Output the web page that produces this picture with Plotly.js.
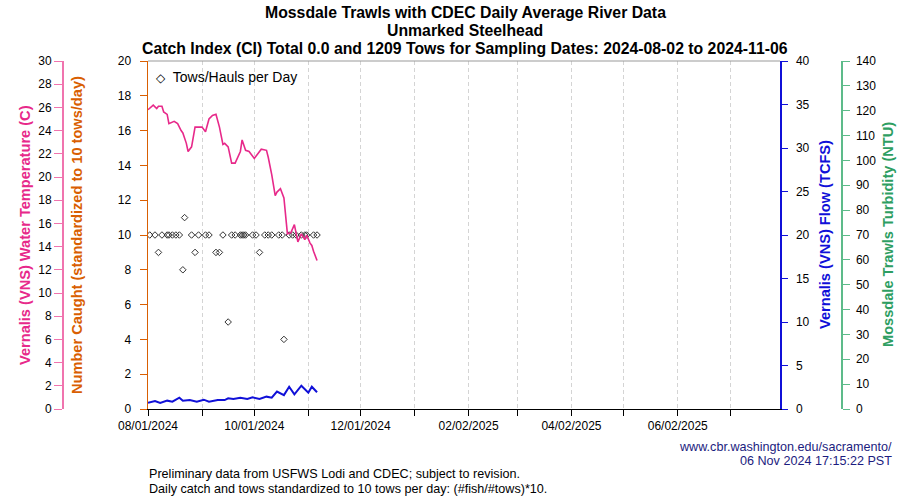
<!DOCTYPE html>
<html>
<head>
<meta charset="utf-8">
<script src="https://cdn.plot.ly/plotly-3.0.1.min.js"></script>
<style>html,body{margin:0;padding:0;background:#fff;}#chart{width:900px;height:500px;}</style>
</head>
<body>
<div id="chart"></div>
<script>
// ---- Data ----
var towDates = ['2024-08-02','2024-08-05','2024-08-07','2024-08-09','2024-08-12','2024-08-13','2024-08-15','2024-08-17','2024-08-19','2024-08-21','2024-08-22','2024-08-26','2024-08-28','2024-08-30','2024-09-03','2024-09-05','2024-09-09','2024-09-11','2024-09-13','2024-09-16','2024-09-18','2024-09-20','2024-09-23','2024-09-24','2024-09-25','2024-09-26','2024-09-30','2024-10-02','2024-10-04','2024-10-07','2024-10-09','2024-10-11','2024-10-15','2024-10-17','2024-10-18','2024-10-21','2024-10-23','2024-10-25','2024-10-28','2024-10-30','2024-10-31','2024-11-04','2024-11-06'];
var towsPerDay = [10,10,9,10,10,10,10,10,10,8,11,10,9,10,10,10,9,9,10,5,10,10,10,10,10,10,10,10,9,10,10,10,10,10,4,10,10,10,10,10,10,10,10];

var tempDates = ['2024-08-01','2024-08-04','2024-08-06','2024-08-07','2024-08-09','2024-08-10','2024-08-12','2024-08-13','2024-08-16','2024-08-18','2024-08-20','2024-08-21','2024-08-23','2024-08-24','2024-08-26','2024-08-28','2024-08-30','2024-09-01','2024-09-03','2024-09-05','2024-09-07','2024-09-09','2024-09-11','2024-09-13','2024-09-14','2024-09-16','2024-09-18','2024-09-20','2024-09-23','2024-09-24','2024-09-26','2024-09-28','2024-10-01','2024-10-03','2024-10-05','2024-10-08','2024-10-09','2024-10-11','2024-10-13','2024-10-14','2024-10-16','2024-10-18','2024-10-20','2024-10-22','2024-10-24','2024-10-26','2024-10-28','2024-10-30','2024-10-31','2024-11-02','2024-11-03','2024-11-04','2024-11-06'];
var tempC = [25.8,26.2,25.9,26.1,26.1,25.6,25.4,24.6,24.8,24.6,24.0,23.8,22.9,22.2,22.6,24.3,24.3,24.3,23.9,25.0,25.3,25.4,24.3,22.8,22.9,22.6,21.2,21.2,22.2,23.2,22.3,22.2,21.6,22.0,22.4,22.3,21.7,20.2,18.4,18.7,19.0,18.2,15.1,15.2,15.9,14.4,15.1,14.6,15.0,14.3,14.1,13.6,12.8];

var flowDates = ['2024-08-01','2024-08-05','2024-08-08','2024-08-12','2024-08-15','2024-08-19','2024-08-21','2024-08-25','2024-08-29','2024-09-02','2024-09-05','2024-09-10','2024-09-14','2024-09-16','2024-09-19','2024-09-23','2024-09-27','2024-09-30','2024-10-04','2024-10-08','2024-10-11','2024-10-14','2024-10-18','2024-10-21','2024-10-24','2024-10-28','2024-11-01','2024-11-03','2024-11-06'];
var flowTCFS = [0.72,0.92,0.69,0.96,0.84,1.3,0.96,1.03,0.84,1.07,0.84,1.03,1.03,1.23,1.15,1.3,1.15,1.34,1.15,1.42,1.3,2.0,1.6,2.56,1.69,2.68,1.88,2.56,1.92];

var turbDates = [];
var turbNTU = [];

var monthTicks = ['2024-08-01','2024-09-01','2024-10-01','2024-11-01','2024-12-01','2025-01-01','2025-02-01','2025-03-01','2025-04-01','2025-05-01','2025-06-01','2025-07-01'];
var monthLabels = ['08/01/2024','','10/01/2024','','12/01/2024','','02/02/2025','','04/02/2025','','06/02/2025',''];

var titleLines = ['Mossdale Trawls with CDEC Daily Average River Data','Unmarked Steelhead','Catch Index (CI) Total 0.0 and 1209 Tows for Sampling Dates: 2024-08-02 to 2024-11-06'];
var legendLabel = 'Tows/Hauls per Day';

// ---- Geometry helpers (pixel -> paper) ----
var W = 900, TOP = 61, BOT = 409;
function px(p){ return p / W; }
function py(p){ return (BOT - p) / (BOT - TOP); }

var FONT = 'Liberation Sans, Arial, sans-serif';
var PINK = '#E7298A', PINK_AX = '#F074AE';
var ORANGE = '#D95F02';
var BLUE = '#1010D8';
var GREEN = '#2E9E62', GREEN_AX = '#5DBB8A';

var traces = [
  {x: tempDates, y: tempC, yaxis: 'y2', mode: 'lines', line: {color: PINK, width: 1.6}, showlegend: false, name: 'Temperature'},
  {x: flowDates, y: flowTCFS, yaxis: 'y3', mode: 'lines', line: {color: BLUE, width: 2}, showlegend: false, name: 'Flow'},
  {x: turbDates, y: turbNTU, yaxis: 'y4', mode: 'lines', line: {color: GREEN, width: 1.5}, showlegend: false, name: 'Turbidity'},
  {x: towDates, y: towsPerDay, yaxis: 'y', mode: 'markers', name: legendLabel, showlegend: false,
   marker: {symbol: 'diamond-open', size: 5, color: '#333333', line: {width: 1, color: '#333333'}}}
];

var tickFont = {family: FONT, size: 12, color: '#000'};
function ytitle(text, x, color){
  return {text: '<b>' + text + '</b>', xref: 'paper', yref: 'paper', x: px(x), y: py(235), textangle: -90,
          showarrow: false, xanchor: 'center', yanchor: 'middle', font: {family: FONT, size: 14.6, color: color}};
}

var annotations = [
  ytitle('Vernalis (VNS) Water Temperature (C)', 25, PINK),
  ytitle('Number Caught (standardized to 10 tows/day)', 77, ORANGE),
  ytitle('Vernalis (VNS) Flow (TCFS)', 825, BLUE),
  ytitle('Mossdale Trawls Turbidity (NTU)', 888, GREEN),
  {text: 'www.cbr.washington.edu/sacramento/', xref: 'paper', yref: 'paper', x: px(894), y: py(447), xanchor: 'right', yanchor: 'middle', showarrow: false, font: {family: FONT, size: 12.6, color: '#1C1C80'}},
  {text: '06 Nov 2024 17:15:22 PST', xref: 'paper', yref: 'paper', x: px(894), y: py(461), xanchor: 'right', yanchor: 'middle', showarrow: false, font: {family: FONT, size: 12.6, color: '#1C1C80'}},
  {text: 'Preliminary data from USFWS Lodi and CDEC; subject to revision.', xref: 'paper', yref: 'paper', x: px(147), y: py(474), xanchor: 'left', yanchor: 'middle', showarrow: false, font: {family: FONT, size: 12.6, color: '#000'}},
  {text: 'Daily catch and tows standardized to 10 tows per day: (#fish/#tows)*10.', xref: 'paper', yref: 'paper', x: px(147), y: py(489), xanchor: 'left', yanchor: 'middle', showarrow: false, font: {family: FONT, size: 12.6, color: '#000'}},
  {text: '<span style="font-family:DejaVu Sans;font-size:12px">\u25C7</span>  ' + legendLabel, xref: 'paper', yref: 'paper', x: px(154), y: py(77), xanchor: 'left', yanchor: 'middle', showarrow: false, font: {family: FONT, size: 14, color: '#000'}}
];
var titleY = [13, 31, 49];
titleLines.forEach(function(t, i){
  annotations.push({text: '<b>' + t + '</b>', xref: 'paper', yref: 'paper', x: px(465), y: py(titleY[i]), xanchor: 'center', yanchor: 'middle', showarrow: false, font: {family: FONT, size: 15.8, color: '#000'}});
});

var layout = {
  width: 900, height: 500,
  margin: {l: 0, r: 0, t: TOP, b: 500 - BOT, pad: 0},
  paper_bgcolor: '#fff', plot_bgcolor: '#fff',
  font: {family: FONT, size: 12, color: '#000'},
  showlegend: false,
  xaxis: {type: 'date', domain: [px(148), px(780)], range: ['2024-08-01', '2025-07-29 16:00'],
          tickvals: monthTicks, ticktext: monthLabels, tickangle: 0,
          showgrid: true, gridcolor: '#d4d4d4', griddash: '4px,3px', gridwidth: 1,
          showline: true, linecolor: '#000', linewidth: 1, ticks: 'outside', ticklen: 6, tickcolor: '#000',
          zeroline: false, tickfont: tickFont, anchor: 'y', fixedrange: true},
  yaxis: {range: [0, 20], tick0: 0, dtick: 2, side: 'left', anchor: 'x',
          showline: true, linecolor: ORANGE, linewidth: 1.5, ticks: 'outside', ticklen: 7, tickcolor: ORANGE,
          showgrid: false, zeroline: false, tickfont: tickFont, ticklabelstandoff: 6},
  yaxis2: {range: [0, 30], tick0: 0, dtick: 2, side: 'left', overlaying: 'y', anchor: 'free', position: px(62),
          showline: true, linecolor: PINK_AX, linewidth: 1.5, ticks: 'outside', ticklen: 8, tickcolor: PINK_AX,
          showgrid: false, zeroline: false, tickfont: tickFont},
  yaxis3: {range: [0, 40], tick0: 0, dtick: 5, side: 'right', overlaying: 'y', anchor: 'x',
          showline: true, linecolor: BLUE, linewidth: 1.5, ticks: 'outside', ticklen: 6, tickcolor: BLUE,
          showgrid: false, zeroline: false, tickfont: tickFont, ticklabelstandoff: 6},
  yaxis4: {range: [0, 140], tick0: 0, dtick: 10, side: 'right', overlaying: 'y', anchor: 'free', position: px(841),
          showline: true, linecolor: GREEN_AX, linewidth: 1.5, ticks: 'outside', ticklen: 7, tickcolor: GREEN_AX,
          showgrid: false, zeroline: false, tickfont: tickFont, ticklabelstandoff: 4},
  shapes: [
    {type: 'line', xref: 'paper', yref: 'paper', x0: px(148), x1: px(780), y0: 1, y1: 1, line: {color: '#999999', width: 1}}
  ],
  annotations: annotations
};

Plotly.newPlot('chart', traces, layout, {staticPlot: true, displayModeBar: false});
</script>
</body>
</html>
